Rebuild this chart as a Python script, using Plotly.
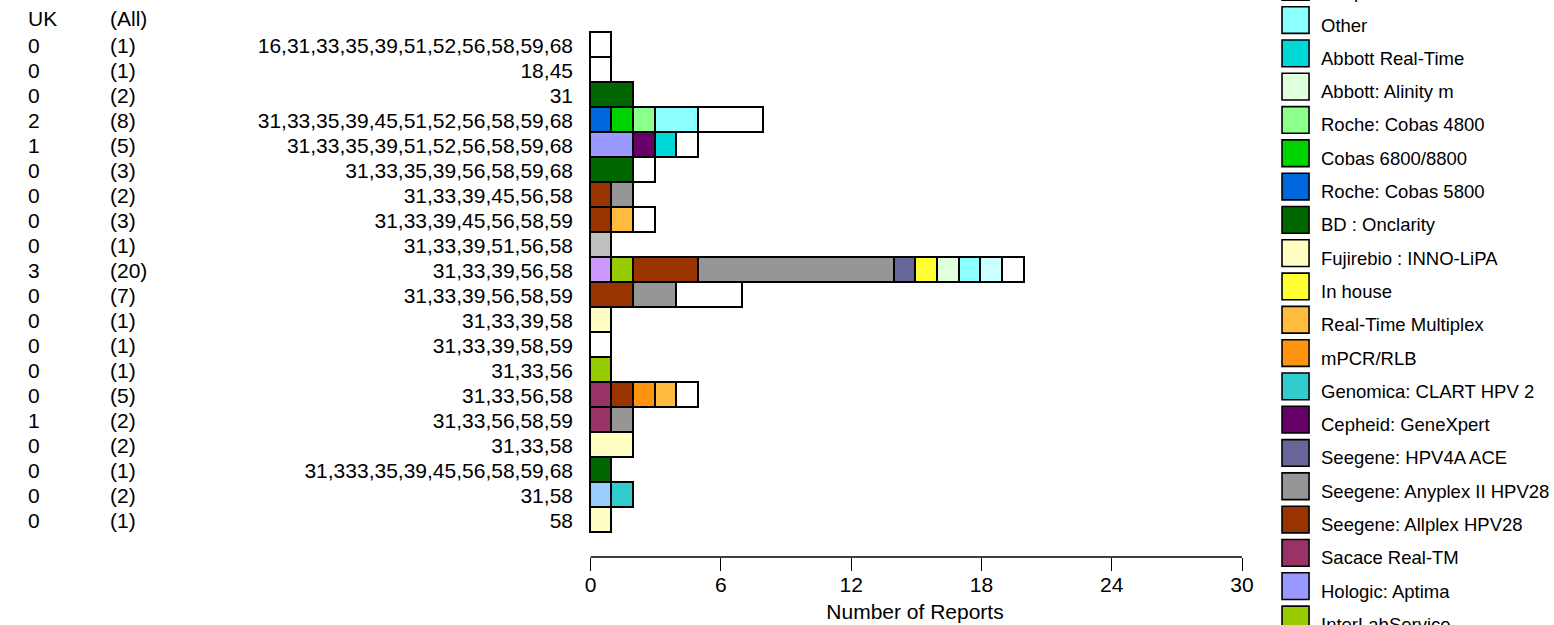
import plotly.graph_objects as go

# ---------------- data ----------------
categories = [
    "16,31,33,35,39,51,52,56,58,59,68",
    "18,45",
    "31",
    "31,33,35,39,45,51,52,56,58,59,68",
    "31,33,35,39,51,52,56,58,59,68",
    "31,33,35,39,56,58,59,68",
    "31,33,39,45,56,58",
    "31,33,39,45,56,58,59",
    "31,33,39,51,56,58",
    "31,33,39,56,58",
    "31,33,39,56,58,59",
    "31,33,39,58",
    "31,33,39,58,59",
    "31,33,56",
    "31,33,56,58",
    "31,33,56,58,59",
    "31,33,58",
    "31,333,35,39,45,56,58,59,68",
    "31,58",
    "58",
]
uk_counts = [0, 0, 0, 2, 1, 0, 0, 0, 0, 3, 0, 0, 0, 0, 0, 1, 0, 0, 0, 0]
all_counts = [1, 1, 2, 8, 5, 3, 2, 3, 1, 20, 7, 1, 1, 1, 5, 2, 2, 1, 2, 1]

# reports per kit, one value per category row (stack order, left to right)
kit_light_blue = [0, 0, 0, 0, 0, 0, 0, 0, 0, 0, 0, 0, 0, 0, 0, 0, 0, 0, 1, 0]
kit_light_grey = [0, 0, 0, 0, 0, 0, 0, 0, 1, 0, 0, 0, 0, 0, 0, 0, 0, 0, 0, 0]
kit_lilac = [0, 0, 0, 0, 0, 0, 0, 0, 0, 1, 0, 0, 0, 0, 0, 0, 0, 0, 0, 0]
interlabservice = [0, 0, 0, 0, 0, 0, 0, 0, 0, 1, 0, 0, 0, 1, 0, 0, 0, 0, 0, 0]
hologic_aptima = [0, 0, 0, 0, 2, 0, 0, 0, 0, 0, 0, 0, 0, 0, 0, 0, 0, 0, 0, 0]
sacace_realtm = [0, 0, 0, 0, 0, 0, 0, 0, 0, 0, 0, 0, 0, 0, 1, 1, 0, 0, 0, 0]
seegene_allplex = [0, 0, 0, 0, 0, 0, 1, 1, 0, 3, 2, 0, 0, 0, 1, 0, 0, 0, 0, 0]
seegene_anyplex = [0, 0, 0, 0, 0, 0, 1, 0, 0, 9, 2, 0, 0, 0, 0, 1, 0, 0, 0, 0]
seegene_hpv4a = [0, 0, 0, 0, 0, 0, 0, 0, 0, 1, 0, 0, 0, 0, 0, 0, 0, 0, 0, 0]
cepheid_genexpert = [0, 0, 0, 0, 1, 0, 0, 0, 0, 0, 0, 0, 0, 0, 0, 0, 0, 0, 0, 0]
genomica_clart = [0, 0, 0, 0, 0, 0, 0, 0, 0, 0, 0, 0, 0, 0, 0, 0, 0, 0, 1, 0]
mpcr_rlb = [0, 0, 0, 0, 0, 0, 0, 0, 0, 0, 0, 0, 0, 0, 1, 0, 0, 0, 0, 0]
realtime_multiplex = [0, 0, 0, 0, 0, 0, 0, 1, 0, 0, 0, 0, 0, 0, 1, 0, 0, 0, 0, 0]
in_house = [0, 0, 0, 0, 0, 0, 0, 0, 0, 1, 0, 0, 0, 0, 0, 0, 0, 0, 0, 0]
fujirebio_innolipa = [0, 0, 0, 0, 0, 0, 0, 0, 0, 0, 0, 1, 0, 0, 0, 0, 2, 0, 0, 1]
bd_onclarity = [0, 0, 2, 0, 0, 2, 0, 0, 0, 0, 0, 0, 0, 0, 0, 0, 0, 1, 0, 0]
roche_cobas5800 = [0, 0, 0, 1, 0, 0, 0, 0, 0, 0, 0, 0, 0, 0, 0, 0, 0, 0, 0, 0]
cobas_6800_8800 = [0, 0, 0, 1, 0, 0, 0, 0, 0, 0, 0, 0, 0, 0, 0, 0, 0, 0, 0, 0]
roche_cobas4800 = [0, 0, 0, 1, 0, 0, 0, 0, 0, 0, 0, 0, 0, 0, 0, 0, 0, 0, 0, 0]
abbott_alinity = [0, 0, 0, 0, 0, 0, 0, 0, 0, 1, 0, 0, 0, 0, 0, 0, 0, 0, 0, 0]
abbott_realtime = [0, 0, 0, 0, 1, 0, 0, 0, 0, 0, 0, 0, 0, 0, 0, 0, 0, 0, 0, 0]
other_kit = [0, 0, 0, 2, 0, 0, 0, 0, 0, 1, 0, 0, 0, 0, 0, 0, 0, 0, 0, 0]
unspecified = [0, 0, 0, 0, 0, 0, 0, 0, 0, 1, 0, 0, 0, 0, 0, 0, 0, 0, 0, 0]
not_stated = [1, 1, 0, 3, 1, 1, 0, 1, 0, 1, 3, 0, 1, 0, 1, 0, 0, 0, 0, 0]

kit_names = [
    "Kit (light blue)", "Kit (light grey)", "Kit (lilac)", "InterLabService",
    "Hologic: Aptima", "Sacace Real-TM", "Seegene: Allplex HPV28",
    "Seegene: Anyplex II HPV28", "Seegene: HPV4A ACE", "Cepheid: GeneXpert",
    "Genomica: CLART HPV 2", "mPCR/RLB", "Real-Time Multiplex", "In house",
    "Fujirebio : INNO-LiPA", "BD : Onclarity", "Roche: Cobas 5800",
    "Cobas 6800/8800", "Roche: Cobas 4800", "Abbott: Alinity m",
    "Abbott Real-Time", "Other", "Unspecified", "Not stated",
]
kit_values = [
    kit_light_blue, kit_light_grey, kit_lilac, interlabservice,
    hologic_aptima, sacace_realtm, seegene_allplex, seegene_anyplex,
    seegene_hpv4a, cepheid_genexpert, genomica_clart, mpcr_rlb,
    realtime_multiplex, in_house, fujirebio_innolipa, bd_onclarity,
    roche_cobas5800, cobas_6800_8800, roche_cobas4800, abbott_alinity,
    abbott_realtime, other_kit, unspecified, not_stated,
]
x_ticks = [0, 6, 12, 18, 24, 30]

# ---------------- styles ----------------
kit_colors = [
    "#99CCFF", "#C0C0C0", "#CC99FF", "#99CC00",
    "#9999FF", "#993366", "#993300",
    "#969696", "#666699", "#660066",
    "#33CCCC", "#FF9411", "#FFBB3D", "#FFFF33",
    "#FFFFC4", "#006600", "#0066DD",
    "#00D400", "#8CFF8C", "#E0FFDD",
    "#00D8D8", "#8CFFFF", "#CCFFFF", "#FFFFFF",
]

W, H = 1554, 625
X0_PX, X30_PX = 591.0, 1242.0          # pixel position of 0 and 30 reports
ROW0_TOP, PLOT_BOTTOM = 33.0, 557.0    # top of first row, x-axis line
ROW = 25.0
UNIT = (X30_PX - X0_PX) / 30.0
PAD_X, PAD_Y = 0.12, 0.12              # small range padding so bar edges are not clipped
L = X0_PX - PAD_X * UNIT
R = W - X30_PX
T = ROW0_TOP - PAD_Y * ROW
B = H - PLOT_BOTTOM
PW, PH = W - L - R, H - T - B
FONT = "Liberation Sans, Arial, sans-serif"
TXT = 21
LEG = 18.5


def px_x(px):
    return (px - L) / PW


def px_y(py):
    return (H - B - py) / PH


fig = go.Figure()
for name, vals, col in zip(kit_names, kit_values, kit_colors):
    fig.add_trace(go.Bar(
        y=categories,
        x=[v if v else None for v in vals],
        orientation="h",
        name=name,
        marker=dict(color=col, line=dict(color="black", width=1.6)),
        showlegend=False,
        hovertemplate="%{y}: %{x}<extra>" + name + "</extra>",
    ))

annotations = []
shapes = []
txtfont = dict(family=FONT, size=TXT, color="black")
# left columns
annotations.append(dict(x=px_x(27), y=px_y(18), xref="paper", yref="paper", text="UK",
                        showarrow=False, xanchor="left", yanchor="middle", font=txtfont))
annotations.append(dict(x=px_x(109), y=px_y(18), xref="paper", yref="paper", text="(All)",
                        showarrow=False, xanchor="left", yanchor="middle", font=txtfont))
for i, (u, a) in enumerate(zip(uk_counts, all_counts)):
    annotations.append(dict(x=px_x(27), y=i, xref="paper", yref="y", text=str(u),
                            showarrow=False, xanchor="left", yanchor="middle", font=txtfont))
    annotations.append(dict(x=px_x(109), y=i, xref="paper", yref="y", text="(%d)" % a,
                            showarrow=False, xanchor="left", yanchor="middle", font=txtfont))

# x-axis baseline spanning exactly 0..30
shapes.append(dict(type="line", xref="x", yref="paper", x0=x_ticks[0], x1=x_ticks[-1],
                   y0=0, y1=0, line=dict(color="black", width=1.3), layer="above"))

# legend (drawn manually; it runs off the top and bottom of the page)
leg_order = list(zip(kit_names, kit_colors))[::-1]
other_pos = [n for n, _ in leg_order].index("Other")
SP = 33.3
for r, (name, col) in enumerate(leg_order):
    k = r - other_pos
    top = 6.7 + SP * k
    bot = top + 26.7
    shapes.append(dict(type="rect", xref="paper", yref="paper",
                       x0=px_x(1282), x1=px_x(1309), y0=px_y(bot), y1=px_y(top),
                       fillcolor=col, line=dict(color="black", width=1.6)))
    annotations.append(dict(x=px_x(1319), y=px_y((top + bot) / 2 + 5), xref="paper", yref="paper",
                            text=name, showarrow=False, xanchor="left", yanchor="middle",
                            font=dict(family=FONT, size=LEG, color="black")))

fig.update_layout(
    width=W, height=H,
    margin=dict(l=L, r=R, t=T, b=B, pad=0, autoexpand=False),
    barmode="stack", bargap=0,
    plot_bgcolor="white", paper_bgcolor="white",
    font=dict(family=FONT, size=TXT, color="black"),
    xaxis=dict(range=[-PAD_X, 30], tickvals=x_ticks, ticktext=[str(t) for t in x_ticks],
               showgrid=False, zeroline=False, showline=False,
               ticks="outside", ticklen=13, tickwidth=1.3,
               tickcolor="black", tickfont=dict(family=FONT, size=TXT),
               ticklabelstandoff=-4,
               title=dict(text="Number of Reports", standoff=9,
                          font=dict(family=FONT, size=TXT))),
    yaxis=dict(type="category", categoryorder="array", categoryarray=categories,
               range=[-0.5 - PAD_Y + PH / ROW, -0.5 - PAD_Y], showgrid=False, zeroline=False,
               showline=False, ticks="", ticklabelstandoff=14,
               tickfont=dict(family=FONT, size=TXT)),
    shapes=shapes,
    annotations=annotations,
    hovermode="closest",
)

fig.write_html("out.html", config={"displayModeBar": False},
               post_script="document.body.style.margin='0px';")
